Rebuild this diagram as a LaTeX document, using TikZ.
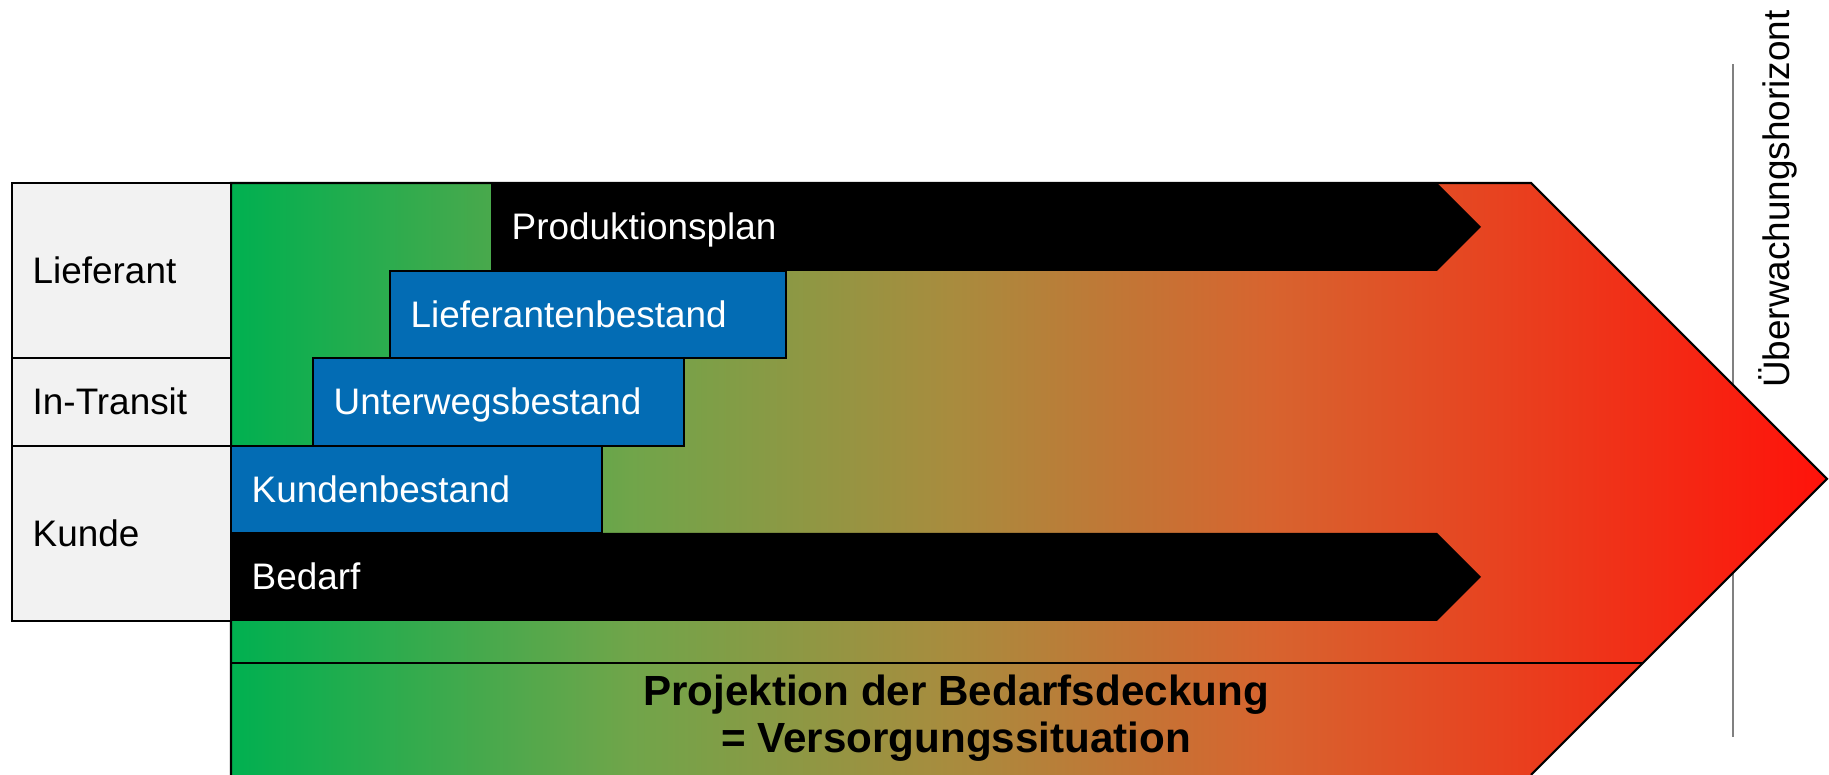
\documentclass[tikz,border=0pt]{standalone}
\usepackage{fontspec}
\setmainfont{Liberation Sans}
\usetikzlibrary{positioning}

\definecolor{gruen}{RGB}{0,176,80}
\definecolor{oliv}{RGB}{112,165,74}
\definecolor{ocker}{RGB}{168,140,62}
\definecolor{orangerot}{RGB}{215,100,47}
\definecolor{rot}{RGB}{255,18,10}
\definecolor{blau}{RGB}{3,108,180}
\definecolor{hellgrau}{RGB}{242,242,242}

% Farbverlauf gruen -> rot (25bp..75bp = Pfadbreite)
\pgfdeclarehorizontalshading{ampel}{100bp}{color(0bp)=(gruen); color(25bp)=(gruen);
  color(37.5bp)=(oliv); color(47.5bp)=(ocker); color(57.5bp)=(orangerot);
  color(75bp)=(rot); color(100bp)=(rot)}

\begin{document}
\begin{tikzpicture}[
  feld/.style={draw,line width=.6pt,fill=hellgrau},
  bestand/.style={draw,line width=.6pt,fill=blau},
  txt/.style={anchor=west,inner sep=0pt,text height=.72em,text depth=0pt,font=\fontsize{10.5}{12.6}\selectfont},
  hell/.style={txt,text=white}]
  \useasboundingbox (0,0) rectangle (18.29,7.75);
  % Horizont (hinter dem Pfeil)
  \draw[gray,line width=.6pt] (17.33,0.38) -- (17.33,7.11);
  \node[txt,anchor=center,rotate=90] (horizont) at (17.77,5.76) {Überwachungshorizont};
  % grosser Pfeil
  \coordinate (spitze) at (18.27,2.96);
  \shade[shading=ampel] (2.31,0) -- (2.31,5.92) -- (15.31,5.92) -- (spitze) -- (15.31,0) -- cycle;
  \draw[line width=.6pt] (15.31,0) -- (spitze) -- (15.31,5.92) -- (2.31,5.92) -- (2.31,0);
  \draw[line width=.6pt] (2.31,1.12) -- (16.43,1.12);
  % schwarze Pfeile
  \fill (4.91,5.92) -- (14.37,5.92) -- (14.81,5.48) -- (14.37,5.04) -- (4.91,5.04) -- cycle;
  \fill (2.31,2.42) -- (14.37,2.42) -- (14.81,1.98) -- (14.37,1.54) -- (2.31,1.54) -- cycle;
  % Bestaende
  \draw[bestand] (3.90,5.04) rectangle (7.86,4.17);
  \draw[bestand] (3.13,4.17) rectangle (6.84,3.29);
  \draw[bestand] (2.31,3.29) rectangle (6.02,2.42);
  % Tabelle
  \draw[feld] (0.12,5.92) rectangle (2.31,4.17);
  \draw[feld] (0.12,4.17) rectangle (2.31,3.29);
  \draw[feld] (0.12,3.29) rectangle (2.31,1.54);
  \node[txt] (lieferant) at (0.32,5.045) {Lieferant};
  \node[txt] (transit) at (0.32,3.73) {In-Transit};
  \node[txt] (kunde) at (0.32,2.415) {Kunde};
  % Beschriftungen
  \node[hell] (plan) at (5.11,5.48) {Produktionsplan};
  \node[hell] (lbestand) at (4.10,4.605) {Lieferantenbestand};
  \node[hell] (ubestand) at (3.33,3.73) {Unterwegsbestand};
  \node[hell] (kbestand) at (2.51,2.855) {Kundenbestand};
  \node[hell] (bedarf) at (2.51,1.98) {Bedarf};
  \node[align=center,font=\bfseries\fontsize{12}{13.4}\selectfont] (deckung) at (9.56,0.565)
    {Projektion der Bedarfsdeckung\\= Versorgungssituation};
\end{tikzpicture}
\end{document}
